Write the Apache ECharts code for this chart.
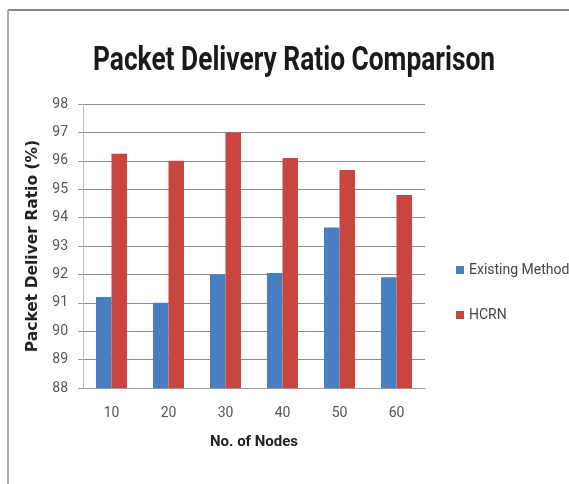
<!DOCTYPE html>
<html><head><meta charset="utf-8">
<script src="https://cdn.jsdelivr.net/npm/echarts@6/dist/echarts.min.js"></script>
<style>html,body{margin:0;padding:0;background:#fff}#c{width:569px;height:484px}</style>
</head><body><div id="c"></div>
<script>
const categories = ['10','20','30','40','50','60'];
const existingMethod = [91.2, 91.0, 92.0, 92.05, 93.65, 91.9];
const hcrn = [96.25, 96.0, 97.0, 96.1, 95.68, 94.8];
const yTicks = {min: 88, max: 98, interval: 1};
const titleText = 'Packet Delivery Ratio Comparison';

const F = 'Roboto, "Open Sans", sans-serif';
const titleFont = 'bold 34px ' + F;
const ctx = document.createElement('canvas').getContext('2d');
ctx.font = titleFont;
const titleScale = 402 / ctx.measureText(titleText).width;

const chart = echarts.init(document.getElementById('c'), null, {renderer: 'canvas'});
chart.setOption({
  backgroundColor: '#fff',
  animation: false,
  legend: {
    orient: 'vertical', left: 451, top: 258, itemGap: 31,
    itemWidth: 8, itemHeight: 8, icon: 'rect',
    textStyle: {fontFamily: F, fontSize: 14, color: '#444'},
    data: ['Existing Method', 'HCRN']
  },
  grid: {left: 83, right: 144, top: 104, bottom: 96, containLabel: false},
  xAxis: {
    type: 'category', data: categories,
    name: 'No. of Nodes', nameLocation: 'middle', nameGap: 47,
    nameTextStyle: {fontFamily: F, fontSize: 15, fontWeight: 'bold', color: '#222'},
    axisLine: {lineStyle: {color: '#999'}},
    axisTick: {show: false},
    axisLabel: {fontFamily: F, fontSize: 14, color: '#555', margin: 18}
  },
  yAxis: {
    type: 'value', min: yTicks.min, max: yTicks.max, interval: yTicks.interval,
    name: 'Packet Deliver Ratio (%)', nameLocation: 'middle', nameGap: 37,
    nameTextStyle: {fontFamily: '"DejaVu Sans", sans-serif', fontSize: 15.5, fontWeight: 'bold', color: '#222'},
    axisLine: {show: true, lineStyle: {color: '#bbb'}},
    axisTick: {show: true, inside: false, length: 5, lineStyle: {color: '#999'}},
    axisLabel: {fontFamily: F, fontSize: 14, color: '#555', margin: 15},
    splitLine: {lineStyle: {color: '#8a8a8a', width: 1}}
  },
  series: [
    {name: 'Existing Method', type: 'bar', data: existingMethod, barWidth: 15.5, barGap: '0%',
     itemStyle: {color: '#4A7EC2'}},
    {name: 'HCRN', type: 'bar', data: hcrn, barWidth: 15.5,
     itemStyle: {color: '#C8463F'}}
  ],
  graphic: [
    {type: 'line', shape: {x1: 8, y1: 10, x2: 569, y2: 10}, style: {stroke: '#888', lineWidth: 2}},
    {type: 'line', shape: {x1: 8, y1: 10, x2: 8, y2: 484}, style: {stroke: '#aaa', lineWidth: 2}},
    {type: 'text', x: 294, y: 61, scaleX: titleScale, scaleY: 1.0,
     style: {text: titleText, font: titleFont, fill: '#1a1a1a', textAlign: 'center', textVerticalAlign: 'middle'}}
  ]
});
</script></body></html>
